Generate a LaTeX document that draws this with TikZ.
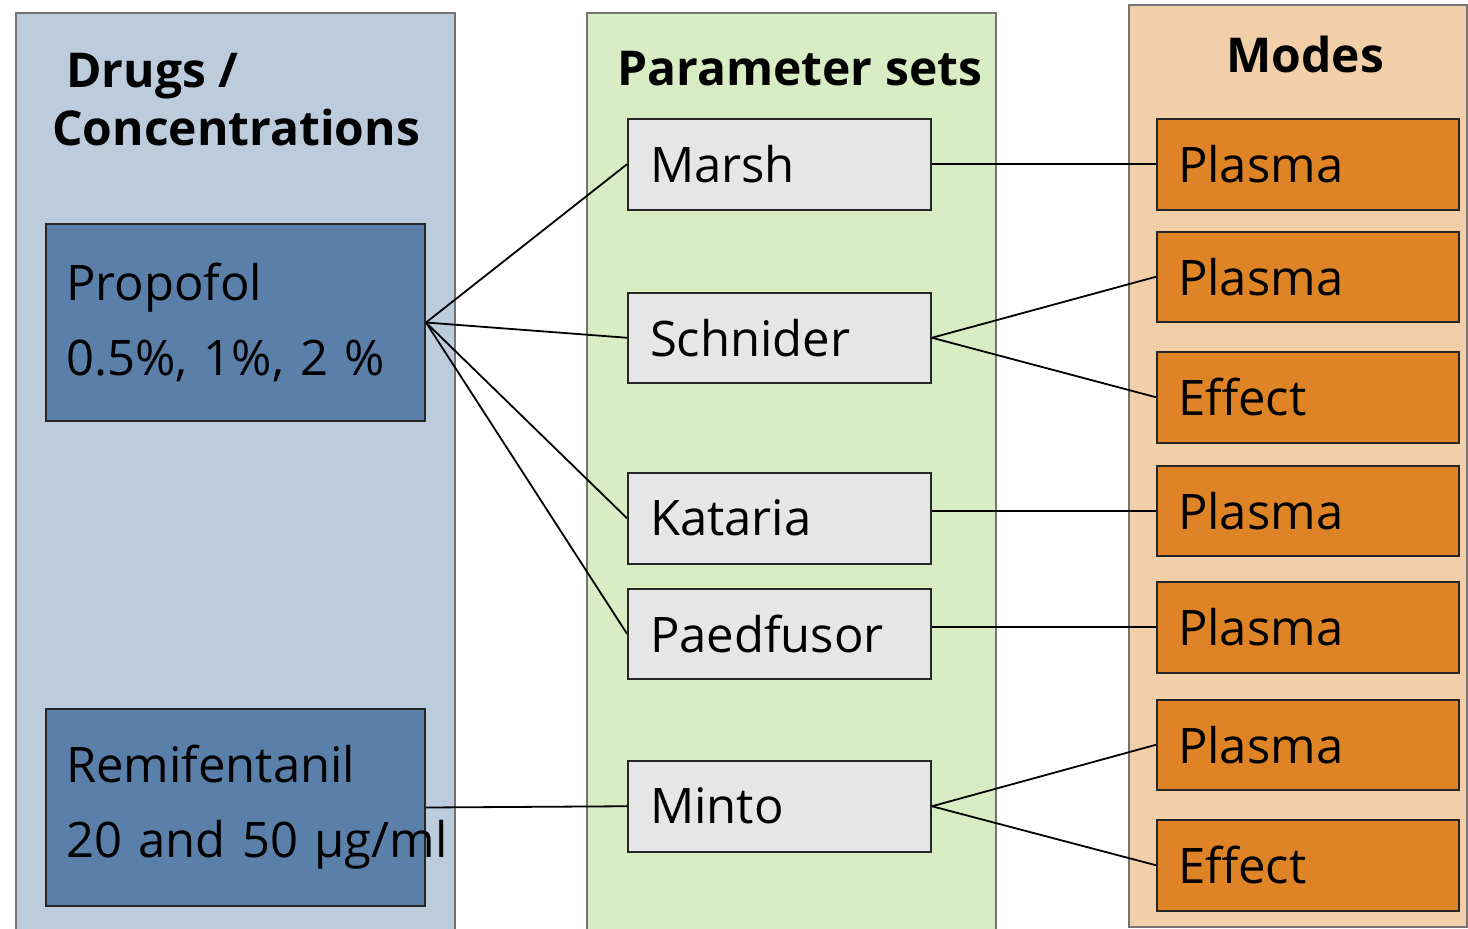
\documentclass[tikz,border=0pt]{standalone}
\usepackage{fontspec}
\setmainfont{Open Sans}
\usetikzlibrary{positioning}
\definecolor{drugbg}{HTML}{BCCCDD}
\definecolor{drugfill}{HTML}{5A7FA9}
\definecolor{parambg}{HTML}{D8EDC3}
\definecolor{paramfill}{HTML}{E6E6E6}
\definecolor{modebg}{HTML}{F2CFA8}
\definecolor{modefill}{HTML}{DF8426}
\begin{document}
\begin{tikzpicture}[x=1pt, y=-1pt, node distance=20pt, semithick]
  \tikzstyle{panel} = [draw=black!55, line width=1.5pt];
  \tikzstyle{heading} = [anchor=base west, inner sep=0pt, align=left, font={\fontsize{48}{58}\selectfont\bfseries}];
  \tikzstyle{box} = [draw=black!85, line width=2pt, anchor=north west, align=left, inner ysep=0pt, font={\fontsize{49}{75}\selectfont}];
  \tikzstyle{drug} = [box, fill=drugfill, minimum width=379pt, minimum height=197pt, text width=339pt, inner xsep=20pt];
  \tikzstyle{param} = [box, fill=paramfill, minimum width=303pt, minimum height=90.5pt, text width=259pt, inner xsep=22pt];
  \tikzstyle{mode} = [box, fill=modefill, minimum width=302pt, minimum height=90.5pt, text width=260pt, inner xsep=21pt];
  \tikzstyle{conn} = [black, line width=1.8pt];

  \clip (0,0) rectangle (1468,929);

  % column backgrounds
  \fill[drugbg] (16,13) rectangle (455,940);
  \draw[panel] (16,940) -- (16,13) -- (455,13) -- (455,940);
  \fill[parambg] (587,13) rectangle (996,940);
  \draw[panel] (587,940) -- (587,13) -- (996,13) -- (996,940);
  \draw[panel, fill=modebg] (1129,5) rectangle (1467,927);

  \node[heading] (drughead) at (52,145) {\hspace{14pt}Drugs /\\[0pt]Concentrations};
  \node[heading] (paramhead) at (617,85) {Parameter sets};
  \node[heading] (modehead) at (1226,72) {Modes};

  % drugs
  \node[drug] (propofol) at (45,223) {Propofol\\0.5\%, 1\%, 2 \%};
  \node[drug] (remi) at (45,708) {Remifentanil\\\makebox[0pt][l]{20 and 50 µg/ml}};

  % parameter sets
  \node[param] (marsh) at (627,118) {Marsh};
  \node[param, below=81pt of marsh] (schnider) {Schnider};
  \node[param, below=88pt of schnider] (kataria) {Kataria};
  \node[param, below=23pt of kataria] (paedfusor) {Paedfusor};
  \node[param, below=80pt of paedfusor] (minto) {Minto};

  % modes
  \node[mode] (plasmaA) at (1156,118) {Plasma};
  \node[mode, below=20pt of plasmaA] (plasmaB) {Plasma};
  \node[mode, below=28pt of plasmaB] (effectB) {Effect};
  \node[mode, below=21pt of effectB] (plasmaC) {Plasma};
  \node[mode, below=24pt of plasmaC] (plasmaD) {Plasma};
  \node[mode, below=25pt of plasmaD] (plasmaE) {Plasma};
  \node[mode, below=28pt of plasmaE] (effectE) {Effect};

  \path[conn]
  (propofol.east) edge (marsh.west)
  edge (schnider.west)
  edge (kataria.west)
  edge (paedfusor.west)
  (remi.east) edge (minto.west)
  (marsh.east) edge (plasmaA.west)
  (schnider.east) edge (plasmaB.west)
  edge (effectB.west)
  (kataria.east |- plasmaC.west) edge (plasmaC.west)
  (paedfusor.east |- plasmaD.west) edge (plasmaD.west)
  (minto.east) edge (plasmaE.west)
  edge (effectE.west);
\end{tikzpicture}
\end{document}
